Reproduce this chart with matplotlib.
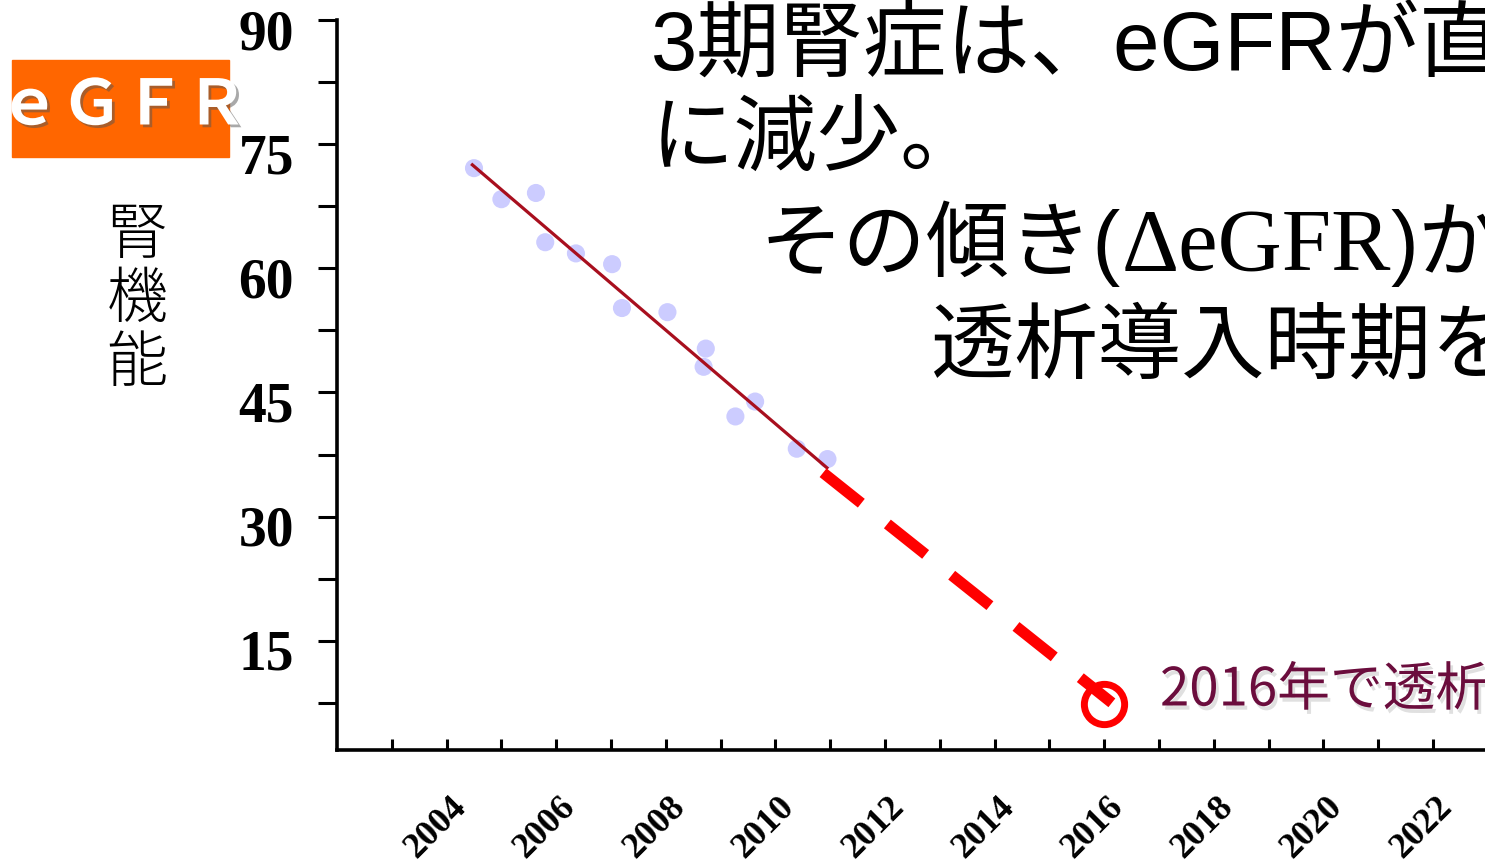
import matplotlib
matplotlib.use("Agg")
import matplotlib.pyplot as plt
import matplotlib.patheffects as pe
from matplotlib.patches import Rectangle
from matplotlib.transforms import ScaledTranslation

# measured eGFR per visit
visit_years = [2004.5, 2005.0, 2005.63, 2005.8, 2006.36, 2007.02, 2007.2,
               2008.03, 2008.73, 2008.69, 2009.63, 2009.27, 2010.39, 2010.95]
egfr_values = [72.1, 68.35, 69.1, 63.15, 61.8, 60.5, 55.2,
               54.7, 50.3, 48.1, 43.9, 42.1, 38.2, 36.95]

# regression line over the observed period and its projection
trend_years = [2004.47, 2010.94]
trend_egfr = [72.5, 35.9]
proj_years = [2010.87, 2016.14]
proj_egfr = [35.3, 7.5]
dialysis_year = 2016.0
dialysis_egfr = 7.3

label_years = [2004, 2006, 2008, 2010, 2012, 2014, 2016, 2018, 2020, 2022]
minor_years = [2003, 2005, 2007, 2009, 2011, 2013, 2015, 2017, 2019, 2021, 2023]
egfr_ticks = [15, 30, 45, 60, 75, 90]
egfr_minor = [7.5, 22.5, 37.5, 52.5, 67.5, 82.5]

JP = ["Noto Sans CJK JP", "DejaVu Sans"]
MIXED = ["Liberation Sans", "Noto Sans CJK JP", "DejaVu Sans"]
SERIF = "Liberation Serif"

W, H = 1485, 864
fig = plt.figure(figsize=(W / 100, H / 100), dpi=100)

x_lo, x_hi = 2002, 2024
px_per_year = 54.8
ax = fig.add_axes([337 / W, (H - 750) / H, (x_hi - x_lo) * px_per_year / W, 730 / H])
ax.set_xlim(x_lo, x_hi)
ax.set_ylim(1.8, 90)

for side in ["top", "right"]:
    ax.spines[side].set_visible(False)
for side in ["left", "bottom"]:
    ax.spines[side].set_linewidth(2.6)

ax.scatter(visit_years, egfr_values, s=170, color="#ccccff", edgecolors="none", zorder=2)
ax.plot(trend_years, trend_egfr, color="#a80f1e", lw=2.3, zorder=3)
ax.plot(proj_years, proj_egfr, color="#ff0000", lw=8, dashes=(4.4, 3.0),
        dash_capstyle="butt", zorder=4)
ax.plot([dialysis_year], [dialysis_egfr], marker="o", ms=29, mfc="none", mec="#ff0000",
        mew=5, clip_on=False, zorder=5)

# x axis: a tick every year, labels every other year
ax.set_xticks(label_years)
ax.set_xticks(minor_years, minor=True)
ax.set_xticklabels([str(y) for y in label_years], rotation=45, ha="center",
                   fontsize=26, fontweight="bold", family=SERIF)
ax.tick_params(axis="x", which="both", direction="in", length=8, width=2.2, pad=29)
shift_x = ScaledTranslation(-11 / 100, 0, fig.dpi_scale_trans)
for lab in ax.get_xticklabels():
    lab.set_transform(lab.get_transform() + shift_x)

# y axis
ax.set_yticks(egfr_ticks)
ax.set_yticks(egfr_minor, minor=True)
ax.set_yticklabels([str(v) for v in egfr_ticks], fontsize=40, fontweight="bold", family=SERIF)
ax.tick_params(axis="y", which="both", direction="out", length=14, width=2.2, pad=17)
shift_y = ScaledTranslation(0, -9 / 100, fig.dpi_scale_trans)
for lab in ax.get_yticklabels():
    lab.set_transform(lab.get_transform() + shift_y)


def fx(x):
    return x / W


def fy(y):
    return 1 - y / H


# orange eGFR badge
fig.patches.append(Rectangle((fx(12), fy(157)), 217 / W, 97 / H, transform=fig.transFigure,
                             color="#ff6600", zorder=0))
fig.text(fx(123), fy(106), "ｅＧＦＲ", ha="center", va="center", fontsize=45, family=JP,
         fontweight="bold", color="white",
         path_effects=[pe.SimplePatchShadow(offset=(2, -2), shadow_rgbFace="#555555", alpha=0.5),
                       pe.Normal()])

# vertical axis caption
fig.text(fx(137), fy(300), "腎\n機\n能", ha="center", va="center", fontsize=44, family=JP,
         fontweight="light", linespacing=1.0)

# headline
big = 60
fig.text(fx(651), fy(70), "3期腎症は、eGFRが直線的", fontsize=big, family=MIXED, va="baseline")
fig.text(fx(651), fy(165), "に減少。", fontsize=big, family=MIXED, va="baseline")
fig.text(fx(931), fy(372), "透析導入時期を予測できる", fontsize=big, family=MIXED, va="baseline")

renderer = fig.canvas.get_renderer()
x_cur = 760
for piece, fam, size in [("その傾き(", MIXED, big), ("ΔeGFR", SERIF, 64), (")から", MIXED, big)]:
    t = fig.text(fx(x_cur), fy(270), piece, fontsize=size, family=fam, va="baseline")
    x_cur = t.get_window_extent(renderer).x1

# projected start of dialysis
fig.text(fx(1160), fy(690), "2016年で透析導入", fontsize=38, family=JP, va="center",
         color="#6b0d3d",
         path_effects=[pe.SimplePatchShadow(offset=(2, -3), shadow_rgbFace="#999999", alpha=0.3),
                       pe.Normal()])

fig.savefig("out.png", dpi=100)
